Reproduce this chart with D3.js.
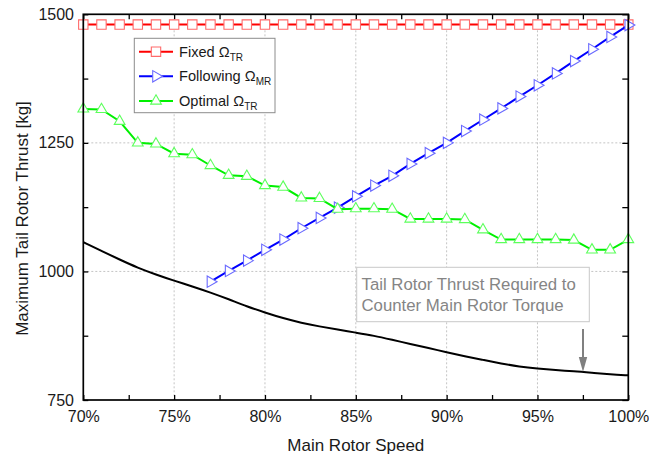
<!DOCTYPE html>
<html>
<head>
<meta charset="utf-8">
<script src="https://cdn.jsdelivr.net/npm/d3@7"></script>
<style>
  html, body { margin: 0; padding: 0; background: #fff; }
  svg { display: block; font-family: "Liberation Sans", Arial, sans-serif; }
</style>
</head>
<body>
<svg id="chart" width="649" height="457"></svg>
<script>
// Main rotor speed (% of nominal), one point per percent
const speedPct = [70,71,72,73,74,75,76,77,78,79,80,81,82,83,84,85,86,87,88,89,90,91,92,93,94,95,96,97,98,99,100];

// Maximum tail rotor thrust [kg] with fixed tail rotor speed
const fixedTR = [1480,1480,1480,1480,1480,1480,1480,1480,1480,1480,1480,1480,1480,1480,1480,1480,
                 1480,1480,1480,1480,1480,1480,1480,1480,1480,1480,1480,1480,1480,1480,1480];

// Tail rotor speed geared to the main rotor (defined from 77 %)
const followingSpeedPct = [77,78,79,80,81,82,83,84,85,86,87,88,89,90,91,92,93,94,95,96,97,98,99,100];
const followingMR = [980,1001,1021,1042,1062,1084,1104,1124,1146,1167,1186,1209,1230,1250,1273,1295,
                     1317,1340,1362,1385,1409,1432,1456,1479];

// Optimal tail rotor speed
const optimalTR = [1316,1315,1292,1250,1248,1229,1227,1206,1187,1185,1167,1164,1143,1142,1121,1122,
                   1122,1121,1102,1102,1102,1101,1081,1062,1062,1062,1062,1061,1042,1042,1062];

// Thrust required to counter main rotor torque
const requiredThrust = [1057,1040,1023,1007,994,982,971,959,946,932,920,909,900,893,887,881,
                        875,867,859,851,843,835,828,821,815,811,808,806,803,800,798];

// Axis ticks
const xMajorTicks = [70,75,80,85,90,95,100];
const xMinorTicks = [72.5,77.5,82.5,87.5,92.5,97.5];
const yMajorTicks = [750,1000,1250,1500];
const yMinorTicks = [875,1125,1375];
const xGrid = [75,80,85,90,95];
const yGrid = [1000,1250];

const svg = d3.select("#chart");
const plotLeft = 83.3, plotRight = 628.3, plotTop = 14.3, plotBottom = 400;

const x = d3.scaleLinear().domain([70, 100]).range([plotLeft, plotRight]);
const y = d3.scaleLinear().domain([750, 1500]).range([plotBottom, plotTop]);

// dotted grid
const grid = svg.append("g").attr("stroke", "#c4c4c4").attr("stroke-width", 1).attr("stroke-dasharray", "2,2");
grid.selectAll(".gx").data(xGrid).join("line")
  .attr("x1", d => x(d)).attr("x2", d => x(d)).attr("y1", plotTop).attr("y2", plotBottom);
grid.selectAll(".gy").data(yGrid).join("line")
  .attr("x1", plotLeft).attr("x2", plotRight).attr("y1", d => y(d)).attr("y2", d => y(d));

// axes with inward ticks
function styleAxis(g) {
  g.select(".domain").remove();
  g.selectAll(".tick line").attr("stroke", "#000").attr("stroke-width", 1.3);
  g.selectAll("text").attr("fill", "#1a1a1a").attr("font-size", 16)
   .attr("font-family", "'Liberation Sans', Arial, sans-serif");
}
svg.append("g").attr("transform", `translate(0,${plotBottom})`)
  .call(d3.axisBottom(x).tickValues(xMajorTicks).tickFormat(d => d + "%").tickSize(-5).tickSizeOuter(0).tickPadding(10.5))
  .call(styleAxis);
svg.append("g").attr("transform", `translate(0,${plotBottom})`)
  .call(d3.axisBottom(x).tickValues(xMinorTicks).tickFormat("").tickSize(-5).tickSizeOuter(0))
  .call(styleAxis);
svg.append("g").attr("transform", `translate(0,${plotTop})`)
  .call(d3.axisTop(x).tickValues(xMajorTicks.concat(xMinorTicks)).tickFormat("").tickSize(-5).tickSizeOuter(0))
  .call(styleAxis);
svg.append("g").attr("transform", `translate(${plotLeft},0)`)
  .call(d3.axisLeft(y).tickValues(yMajorTicks).tickFormat(d3.format("d")).tickSize(-5).tickSizeOuter(0).tickPadding(9.3))
  .call(styleAxis);
svg.append("g").attr("transform", `translate(${plotLeft},0)`)
  .call(d3.axisLeft(y).tickValues(yMinorTicks).tickFormat("").tickSize(-5).tickSizeOuter(0))
  .call(styleAxis);
svg.append("g").attr("transform", `translate(${plotRight},0)`)
  .call(d3.axisRight(y).tickValues(yMajorTicks.concat(yMinorTicks)).tickFormat("").tickSize(-6).tickSizeOuter(0))
  .call(styleAxis);

// required-thrust curve (smoothed)
const reqLine = d3.line().x((d, i) => x(speedPct[i])).y(d => y(d)).curve(d3.curveBasis);
svg.append("path").datum(requiredThrust).attr("d", reqLine)
  .attr("fill", "none").attr("stroke", "#000").attr("stroke-width", 2);

// annotation box and arrow
const note = svg.append("g");
note.append("rect").attr("x", 356.7).attr("y", 267.3).attr("width", 232.6).attr("height", 54.4)
  .attr("fill", "#fff").attr("stroke", "#c8c8c8").attr("stroke-width", 1);
note.append("text").attr("x", 361.5).attr("y", 290).attr("font-size", 16.8).attr("fill", "#858585")
  .text("Tail Rotor Thrust Required to");
note.append("text").attr("x", 361.5).attr("y", 310.5).attr("font-size", 16.8).attr("fill", "#858585")
  .text("Counter Main Rotor Torque");
note.append("line").attr("x1", 583).attr("x2", 583).attr("y1", 329).attr("y2", 360)
  .attr("stroke", "#808080").attr("stroke-width", 2);
note.append("path").attr("d", "M578.8,357 L587.2,357 L583,372 Z").attr("fill", "#808080");

// series drawing
const sq = d3.symbol().type(d3.symbolSquare).size(88);
const tri = d3.symbol().type(d3.symbolTriangle).size(50);
const triR = d3.symbol().type(d3.symbolTriangle).size(56);

function drawSeries(xs, ys, color, markColor, symbolPath, rotate) {
  const pts = ys.map((v, i) => [x(xs[i]), y(v)]);
  svg.append("path").datum(pts).attr("d", d3.line())
    .attr("fill", "none").attr("stroke", color).attr("stroke-width", 2);
  svg.append("g").selectAll("path").data(pts).join("path")
    .attr("d", symbolPath)
    .attr("transform", d => `translate(${d[0]},${d[1]})` + (rotate ? ` rotate(${rotate})` : ""))
    .attr("fill", "#fff").attr("stroke", markColor).attr("stroke-width", 1.1);
}
drawSeries(speedPct, fixedTR, "#ff0000", "#ff6a6a", sq(), 0);
drawSeries(followingSpeedPct, followingMR, "#0000ff", "#6a6aff", triR(), 90);
drawSeries(speedPct, optimalTR, "#00f000", "#5cff5c", tri(), 0);

// legend
const legend = svg.append("g");
legend.append("rect").attr("x", 134.3).attr("y", 38.3).attr("width", 140.7).attr("height", 74.4)
  .attr("fill", "#fff").attr("stroke", "#8c8c8c").attr("stroke-width", 1);
const legendItems = [
  { name: "Fixed \u03A9", sub: "TR", color: "#ff0000", mark: "#ff6a6a", sym: sq(), rot: 0, cy: 51.7 },
  { name: "Following \u03A9", sub: "MR", color: "#0000ff", mark: "#6a6aff", sym: triR(), rot: 90, cy: 76.3 },
  { name: "Optimal \u03A9", sub: "TR", color: "#00f000", mark: "#5cff5c", sym: tri(), rot: 0, cy: 101 }
];
legendItems.forEach(it => {
  legend.append("line").attr("x1", 139).attr("x2", 173).attr("y1", it.cy).attr("y2", it.cy)
    .attr("stroke", it.color).attr("stroke-width", 2);
  legend.append("path").attr("d", it.sym)
    .attr("transform", `translate(156,${it.cy})` + (it.rot ? ` rotate(${it.rot})` : ""))
    .attr("fill", "#fff").attr("stroke", it.mark).attr("stroke-width", 1.1);
  const t = legend.append("text").attr("x", 179).attr("y", it.cy + 5).attr("font-size", 14.6).attr("fill", "#1a1a1a");
  t.append("tspan").text(it.name);
  t.append("tspan").attr("font-size", 10).attr("dy", 4).text(it.sub);
});

// plot frame
svg.append("rect").attr("x", plotLeft).attr("y", plotTop).attr("width", plotRight - plotLeft).attr("height", plotBottom - plotTop)
  .attr("fill", "none").attr("stroke", "#000").attr("stroke-width", 1.7);

// axis titles
svg.append("text").attr("x", (plotLeft + plotRight) / 2).attr("y", 451).attr("text-anchor", "middle")
  .attr("font-size", 17).attr("fill", "#1a1a1a").text("Main Rotor Speed");
svg.append("text").attr("transform", "translate(27.7,218.5) rotate(-90)").attr("text-anchor", "middle")
  .attr("font-size", 17).attr("fill", "#1a1a1a").text("Maximum Tail Rotor Thrust [kg]");
</script>
</body>
</html>
